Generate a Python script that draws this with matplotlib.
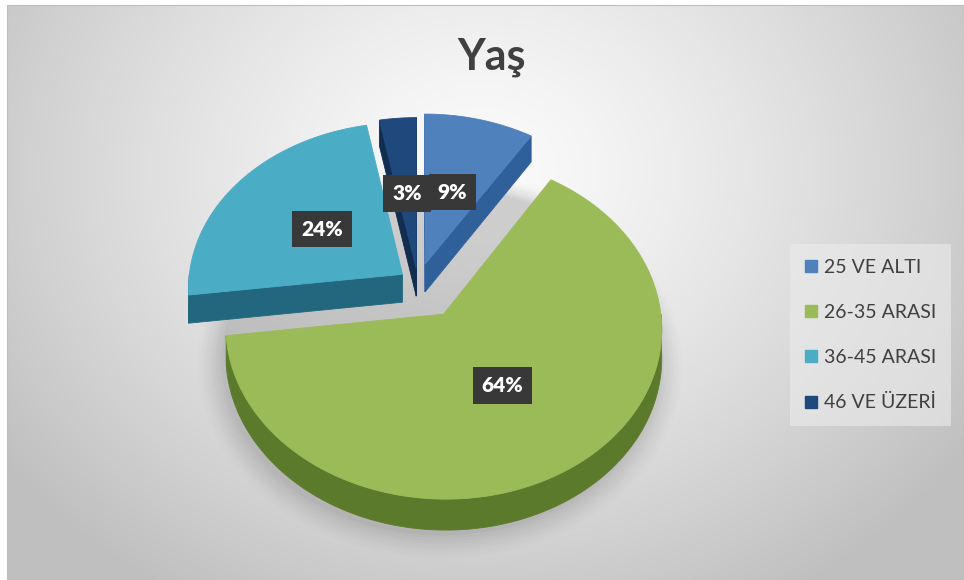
import numpy as np
import matplotlib
matplotlib.use("Agg")
import matplotlib.pyplot as plt
from matplotlib.patches import Polygon, Rectangle
from matplotlib.lines import Line2D

# chart data
TITLE = "Yaş"
CATEGORIES = ["25 VE ALTI", "26-35 ARASI", "36-45 ARASI", "46 VE ÜZERİ"]
VALUES = [9, 64, 24, 3]

# styling
TOP_COLORS = ["#4f81bd", "#9bbb59", "#4bacc6", "#1f497d"]
SIDE_COLORS = ["#30609a", "#5c7a2b", "#23677e", "#122d4f"]
EXPLODE = [0.12, 0.22, 0.09, 0.09]
FONT = "Lato"

# pseudo 3D projection (pixel space, y down)
CX, CY = 418, 283
RX, RY = 214, 165
PERSP = 0.08
DEPTH = 28
LABEL_R = 0.48

W, H = 964, 580


def project(u, v, drop=0.0):
    u = np.asarray(u, dtype=float)
    v = np.asarray(v, dtype=float)
    m = 1.0 / (1.0 + PERSP * v)
    return CX + RX * u * m, CY - RY * v * m + drop * m


def poly(ax, xs, ys, color, z):
    pts = np.column_stack([xs, ys])
    ax.add_patch(Polygon(pts, closed=True, facecolor=color, edgecolor=color,
                         linewidth=0.6, zorder=z))


def draw_background(ax):
    yy, xx = np.mgrid[0:H, 0:W]
    d = np.hypot((xx - 480) / 620.0, (yy - 170) / 520.0)
    g = np.clip(0.985 - 0.25 * d ** 1.3, 0.75, 1.0)
    img = np.dstack([g, g, g])
    img[:5, :, :] = 1.0
    img[:, :7, :] = 1.0
    ax.imshow(img, extent=(0, W, H, 0), zorder=0, interpolation="bilinear")
    ax.add_patch(Rectangle((7, 5), W - 7, H - 5, fill=False, edgecolor="#bdbdbd",
                           linewidth=0.8, zorder=1))


def draw_shadow(ax):
    th = np.linspace(0, 2 * np.pi, 200)
    for i, a in enumerate(np.linspace(0.06, 0.012, 9)):
        grow = 1.0 + 0.014 * i
        xs, ys = project(0.1 + grow * np.sin(th), -0.19 + grow * np.cos(th), DEPTH + 4)
        ax.fill(xs, ys, color="#6f6f6f", alpha=a, lw=0, zorder=1.5)


def draw_pie(ax):
    total = float(sum(VALUES))
    bounds = np.concatenate([[0.0], np.cumsum(VALUES) / total]) * 2 * np.pi
    slices = []
    for i in range(len(VALUES)):
        a0, a1 = bounds[i], bounds[i + 1]
        am = 0.5 * (a0 + a1)
        ou, ov = EXPLODE[i] * np.sin(am), EXPLODE[i] * np.cos(am)
        slices.append((ov, i, a0, a1, am, ou))

    # back to front
    order = sorted(slices, key=lambda s: -s[0])
    z = 2
    label_pos = {}
    for ov, i, a0, a1, am, ou in order:
        top, side = TOP_COLORS[i], SIDE_COLORS[i]
        # outer wall, front half only
        lo, hi = max(a0, np.pi / 2), min(a1, 3 * np.pi / 2)
        if hi > lo:
            th = np.linspace(lo, hi, 120)
            x1, y1 = project(ou + np.sin(th), ov + np.cos(th))
            x2, y2 = project(ou + np.sin(th), ov + np.cos(th), DEPTH)
            poly(ax, np.r_[x1, x2[::-1]], np.r_[y1, y2[::-1]], side, z)
        # radial cut faces that face the viewer
        for a, nrm in ((a0, (-np.cos(a0), np.sin(a0))), (a1, (np.cos(a1), -np.sin(a1)))):
            if nrm[1] < 0.05:
                us = np.array([ou, ou + np.sin(a), ou + np.sin(a), ou])
                vs = np.array([ov, ov + np.cos(a), ov + np.cos(a), ov])
                xs, ys = project(us, vs, np.array([0, 0, DEPTH, DEPTH]))
                poly(ax, xs, ys, side, z + 0.1)
        th = np.linspace(a0, a1, 150)
        xs, ys = project(np.r_[ou, ou + np.sin(th)], np.r_[ov, ov + np.cos(th)])
        poly(ax, xs, ys, top, z + 0.2)
        z += 1
        lx, ly = project(ou + LABEL_R * np.sin(am), ov + LABEL_R * np.cos(am))
        label_pos[i] = (float(lx), float(ly))

    for i, (lx, ly) in label_pos.items():
        pct = 100.0 * VALUES[i] / total
        ax.text(lx, ly, f"{pct:.0f}%", ha="center", va="center", color="white",
                fontsize=15, fontweight="heavy", family=FONT, zorder=20,
                bbox=dict(boxstyle="square,pad=0.42", facecolor="#383838",
                          edgecolor="none"))


def main():
    fig = plt.figure(figsize=(W / 100, H / 100), dpi=100)
    ax = fig.add_axes([0, 0, 1, 1])
    ax.set_xlim(0, W)
    ax.set_ylim(H, 0)
    ax.axis("off")

    draw_background(ax)
    draw_shadow(ax)
    draw_pie(ax)

    ax.text(492, 57, TITLE, ha="center", va="center", fontsize=31, fontweight="bold",
            color="#404040", family=FONT, zorder=20)

    handles = [Line2D([], [], marker="s", linestyle="none", markersize=8,
                      markerfacecolor=c, markeredgecolor=c) for c in TOP_COLORS]
    leg = ax.legend(handles, CATEGORIES, loc="upper left",
                    bbox_to_anchor=(790 / W, 1 - 244 / H), frameon=True,
                    prop={"family": FONT, "size": 14}, labelspacing=1.45,
                    handlelength=0.7, handletextpad=0.3, borderpad=0.75,
                    borderaxespad=0.0, fancybox=False)
    leg.get_frame().set_facecolor("#ececec")
    leg.get_frame().set_edgecolor("none")
    leg.get_frame().set_alpha(0.6)
    for t in leg.get_texts():
        t.set_color("#404040")

    fig.savefig("out.png", dpi=100)


if __name__ == "__main__":
    main()
